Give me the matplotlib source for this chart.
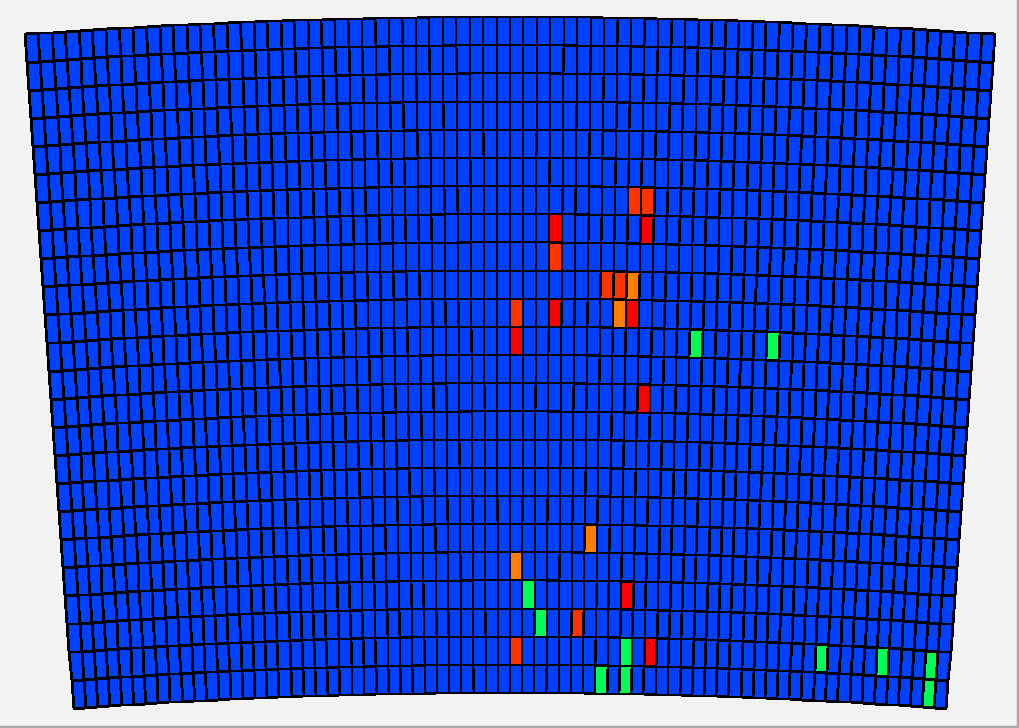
import numpy as np
import matplotlib
matplotlib.use("Agg")
import matplotlib.pyplot as plt
from matplotlib.colors import ListedColormap, BoundaryNorm
from matplotlib.lines import Line2D

# Tamaño de la malla (anillo polar)
n_rows = 24
n_cols = 72
r_inner = 9.0
r_outer = 10.0
half_angle = np.deg2rad(4.114)

# Niveles: 0 azul, 1 verde, 2 naranja, 3 rojo-naranja, 4 rojo
level_colors = ["#0040ff", "#00ff55", "#ff8000", "#ff3300", "#ff0000"]

# Celdas con valor distinto de cero (fila desde arriba, columna desde la izquierda)
hit_rows = [6, 6, 7, 7, 8, 9, 9, 9, 10, 10, 10, 10, 11, 11, 11, 13,
            18, 19, 20, 20, 21, 21, 22, 22, 22, 22, 22, 22, 23, 23, 23]
hit_cols = [45, 46, 39, 46, 39, 43, 44, 45, 36, 39, 44, 45, 36, 50, 56, 46,
            42, 36, 37, 45, 38, 41, 36, 45, 47, 61, 66, 70, 43, 45, 70]
hit_levels = [3, 3, 4, 4, 3, 3, 3, 2, 3, 4, 2, 4, 4, 1, 1, 4,
              2, 2, 1, 4, 1, 3, 3, 1, 4, 1, 1, 1, 1, 1, 1]

values = np.zeros((n_rows, n_cols))
for r, c, v in zip(hit_rows, hit_cols, hit_levels):
    values[r, c] = v

# Bordes de la malla en coordenadas polares -> cartesianas
r_edges = np.linspace(r_outer, r_inner, n_rows + 1)
t_edges = np.linspace(-half_angle, half_angle, n_cols + 1)
T, R = np.meshgrid(t_edges, r_edges)
X = R * np.sin(T)
Y = R * np.cos(T)

fig = plt.figure(figsize=(10.2, 7.28), dpi=100)
fig.patch.set_facecolor("#f2f2f2")

# Posición de los ejes para que 1 unidad radial = 676 px
scale = 676.0
x_half = r_outer * np.sin(half_angle)
y_low = r_inner * np.cos(half_angle)
w_px = 2 * x_half * scale
h_px = (r_outer - y_low) * scale
left_px = 510 - w_px / 2
bottom_px = 728 - 17 - h_px
ax = fig.add_axes([left_px / 1020, bottom_px / 728, w_px / 1020, h_px / 728])
ax.set_xlim(-x_half, x_half)
ax.set_ylim(y_low, r_outer)
ax.axis("off")

cmap = ListedColormap(level_colors)
norm = BoundaryNorm(np.arange(-0.5, len(level_colors)), cmap.N)
mesh = ax.pcolormesh(X, Y, values, cmap=cmap, norm=norm,
                     edgecolors="black", linewidth=1.25)
mesh.set_clip_on(False)

# Sombra gris a la derecha y abajo
fig.add_artist(Line2D([0, 1], [0.002, 0.002], color="#a8a8a8", linewidth=2.5,
                      transform=fig.transFigure))
fig.add_artist(Line2D([0.9985, 0.9985], [0, 1], color="#a8a8a8", linewidth=2.5,
                      transform=fig.transFigure))

fig.savefig("out.png", dpi=100, facecolor=fig.get_facecolor())
